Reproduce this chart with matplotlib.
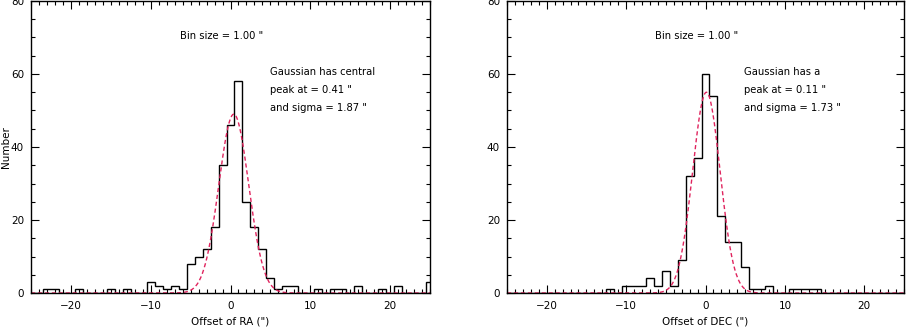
import numpy as np
import matplotlib
matplotlib.use("Agg")
import matplotlib.pyplot as plt
from matplotlib.ticker import MultipleLocator

# ---- data (bin centers, counts) ----
ra_centers = [-23, -22, -19, -15, -13, -10, -9, -8, -7, -6, -5, -4, -3, -2, -1, 0, 1, 2, 3, 4, 5, 6, 7, 8, 11, 13, 14, 16, 19, 21, 25]
ra_counts  = [1, 1, 1, 1, 1, 3, 2, 1, 2, 1, 8, 10, 12, 18, 35, 46, 58, 25, 18, 12, 4, 1, 2, 2, 1, 1, 1, 2, 1, 2, 3]

dec_centers = [-12, -10, -9, -8, -7, -6, -5, -4, -3, -2, -1, 0, 1, 2, 3, 4, 5, 6, 7, 8, 11, 12, 13, 14]
dec_counts  = [1, 2, 2, 2, 4, 2, 6, 2, 9, 32, 37, 60, 54, 21, 14, 14, 7, 1, 1, 2, 1, 1, 1, 1]

# Gaussian fit parameters (amplitude, center, sigma)
ra_fit = (49.0, 0.41, 1.87)
dec_fit = (55.0, 0.11, 1.73)

bin_size = 1.0
xlabels = ['Offset of RA (")', 'Offset of DEC (")']
notes = [["Gaussian has central", 'peak at = 0.41 "', 'and sigma = 1.87 "'],
         ["Gaussian has a", 'peak at = 0.11 "', 'and sigma = 1.73 "']]

plt.rcParams['font.family'] = ['DejaVu Sans']
fig = plt.figure(figsize=(9.07, 3.28), dpi=100)
ax1 = fig.add_axes([31/907, 35/328, 399/907, 292/328])
ax2 = fig.add_axes([507/907, 35/328, 397/907, 292/328])

edges = np.arange(-25.5, 26.0, bin_size)
xs = np.linspace(-25, 25, 1000)

panels = [(ax1, ra_centers, ra_counts, ra_fit, xlabels[0], notes[0]),
          (ax2, dec_centers, dec_counts, dec_fit, xlabels[1], notes[1])]

for i, (ax, c, n, fit, xl, note) in enumerate(panels):
    ax.hist(c, bins=edges, weights=n, histtype='step', color='black', lw=1.0)
    A, mu, sg = fit
    ax.plot(xs, A*np.exp(-(xs-mu)**2/(2*sg**2)), color='#e0245e', lw=1.0,
            linestyle=(0, (3, 2)))
    ax.set_xlim(-25, 25)
    ax.set_ylim(0, 80)
    ax.xaxis.set_major_locator(MultipleLocator(10))
    ax.xaxis.set_minor_locator(MultipleLocator(1))
    ax.yaxis.set_major_locator(MultipleLocator(20))
    ax.yaxis.set_minor_locator(MultipleLocator(5))
    ax.tick_params(which='both', direction='in', top=True, right=True,
                   labelsize=7.5, width=0.8)
    ax.tick_params(which='major', length=6)
    ax.tick_params(which='minor', length=3)
    ax.tick_params(axis='x', pad=6)
    ax.tick_params(axis='y', pad=5)
    for s in ax.spines.values():
        s.set_linewidth(1.0)
    ax.set_xlabel(xl, fontsize=7.5, labelpad=4)
    if i == 0:
        ax.set_ylabel('Number', fontsize=7.5)
        ax.yaxis.set_label_coords(-0.05, 0.5)
    ax.text(-6.3, 70.5, 'Bin size = %.2f "' % bin_size, fontsize=7.2, va='center')
    for j, line in enumerate(note):
        ax.text(4.9, 60.5 - 4.9*j, line, fontsize=7.2, va='center')

fig.savefig('out.png', dpi=100)
